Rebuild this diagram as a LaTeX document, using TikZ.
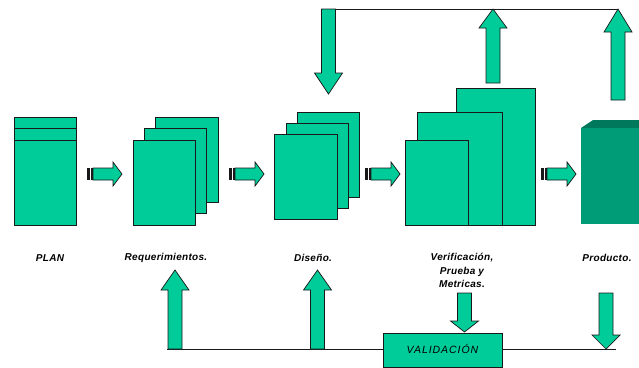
\documentclass[tikz,border=0pt]{standalone}
\usepackage{fontspec}
\setmainfont{Liberation Sans}
\usetikzlibrary{calc}

\definecolor{sheetgreen}{RGB}{0,204,153}
\definecolor{boxfront}{RGB}{0,155,119}
\definecolor{boxtop}{RGB}{0,120,92}
\definecolor{edgecol}{RGB}{25,25,25}

\tikzset{
  page/.style={draw=edgecol, fill=sheetgreen, line width=0.8pt, anchor=north west,
               inner sep=0pt, outer sep=0pt},
  blockarrow/.style={draw=edgecol, fill=sheetgreen, line width=0.7pt, line join=miter},
  tailband/.style={fill=edgecol, draw=none},
  rail/.style={draw=edgecol, line width=0.9pt},
  lbl/.style={font=\fontsize{10}{13.5}\selectfont\bfseries\itshape\addfontfeatures{LetterSpace=3},
              align=center, inner sep=0pt},
  vlbl/.style={font=\fontsize{10.5}{12}\selectfont\itshape\addfontfeatures{LetterSpace=9},
               inner sep=0pt}
}

% vertical block arrow: centre x, base y, head-base y, tip y
\newcommand\vblock[4]{%
  \draw[blockarrow] (#1-7,#2) -- (#1-7,#3) -- (#1-14,#3) -- (#1,#4)
     -- (#1+14,#3) -- (#1+7,#3) -- (#1+7,#2) -- cycle;}
% horizontal block arrow with striped tail: tail x, head-base x, tip x, centre y
\newcommand\hblock[4]{%
  \fill[tailband] (#1,#4-6) rectangle (#1+3,#4+6);
  \fill[tailband] (#1+4,#4-6) rectangle (#1+6,#4+6);
  \draw[blockarrow] (#1+6,#4-6) -- (#2,#4-6) -- (#2,#4-12) -- (#3,#4)
     -- (#2,#4+12) -- (#2,#4+6) -- (#1+6,#4+6) -- cycle;}

\begin{document}
\begin{tikzpicture}[x=1pt,y=-1pt]
\useasboundingbox (0,0) rectangle (639,367);

% feedback rails
\coordinate (railTL) at (328.5,9);
\coordinate (railTR) at (618,9);
\coordinate (railBL) at (167,349);
\coordinate (railBR) at (616,349);
\draw[rail] (railTL) -- (railTR);
\draw[rail] (railBL) -- (railBR);

% PLAN
\node[page, minimum width=62, minimum height=108] (plan) at (14,117) {};
\draw[edgecol, line width=0.8pt] (14,128) -- (76,128) (14,140) -- (76,140);

% Requerimientos: stack of three sheets
\node[page, minimum width=63, minimum height=85] (req3) at (155,117) {};
\node[page, minimum width=62, minimum height=85] (req2) at (144,128) {};
\node[page, minimum width=62, minimum height=85] (req1) at (133,140) {};

% Diseno: stack of three sheets
\node[page, minimum width=62, minimum height=85] (dis3) at (297,112) {};
\node[page, minimum width=62, minimum height=85] (dis2) at (286,123) {};
\node[page, minimum width=63, minimum height=85] (dis1) at (274,134) {};

% Verificacion: nested blocks
\node[page, minimum width=79, minimum height=137] (ver3) at (456,88) {};
\node[page, minimum width=85, minimum height=113] (ver2) at (417,112) {};
\node[page, minimum width=63, minimum height=85]  (ver1) at (405,140) {};

% Producto: solid box
\fill[boxtop] (581,128) -- (593,120) -- (639,120) -- (639,128) -- cycle;
\node[fill=boxfront, anchor=north west, inner sep=0pt, minimum width=58,
      minimum height=96] (prod) at (581,128) {};

% forward flow arrows
\hblock{87}{113}{122}{174}
\hblock{229}{255}{264}{174}
\hblock{365}{391}{400}{174}
\hblock{541}{567}{576}{174}

% arrows on the upper rail
\vblock{328.5}{9}{73}{94}
\vblock{493}{83}{28}{9}
\vblock{618}{100}{32}{9}

% validation box and lower arrows
\node[page, minimum width=119, minimum height=34] (valid) at (383,333) {};
\node[vlbl] at (442.5,349) {VALIDACIÓN};
\vblock{175}{349}{290}{270}
\vblock{317.5}{349}{290}{270}
\vblock{464.5}{293}{321}{332}
\vblock{606}{293}{335}{349}

% stage labels
\node[lbl] (lplan) at (50,258) {PLAN};
\node[lbl] (lreq)  at (166,258) {Requerimientos.};
\node[lbl] (ldis)  at (313,258) {Diseño.};
\node[lbl, anchor=north] (lver) at (462,253) {Verificación,\\Prueba y\\Metricas.};
\node[lbl] (lprod) at (607,258) {Producto.};
\end{tikzpicture}
\end{document}
